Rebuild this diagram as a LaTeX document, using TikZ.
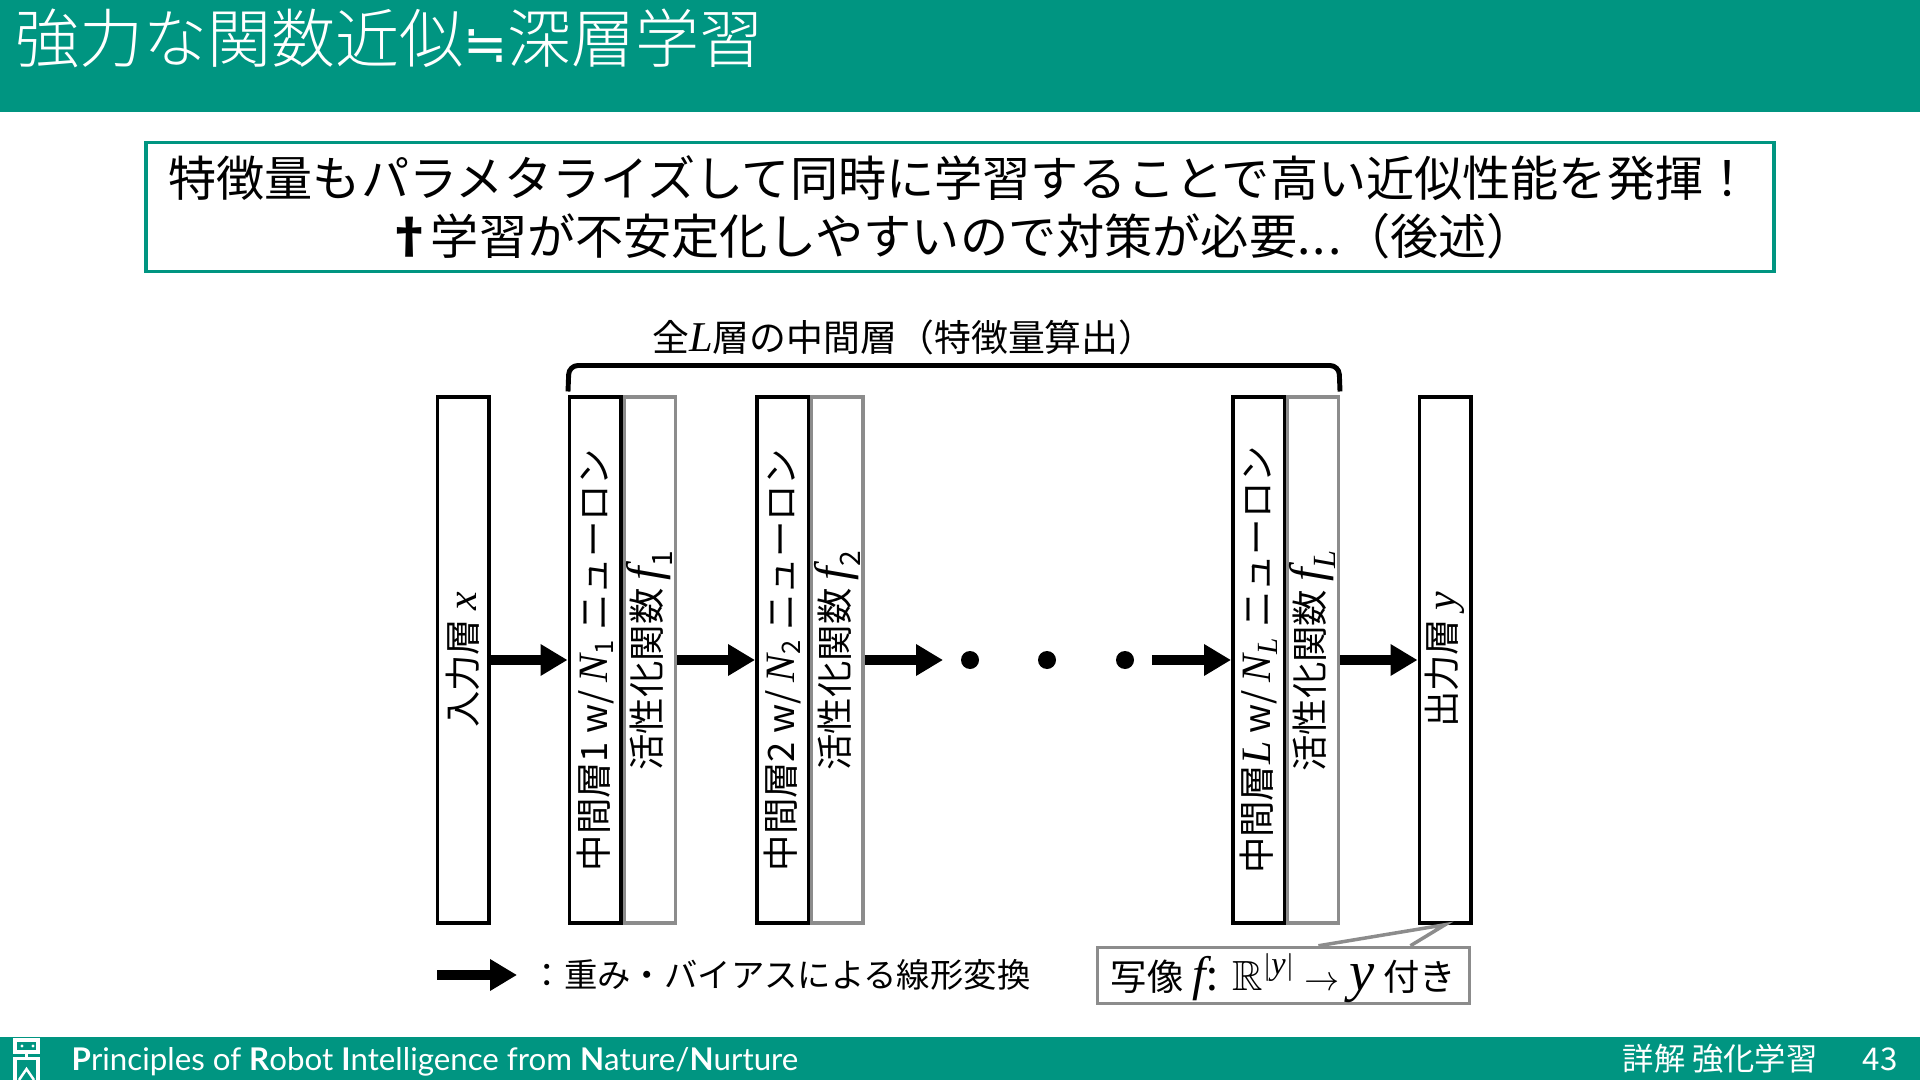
\documentclass[tikz,border=0pt]{standalone}
\usepackage{amsmath,amssymb}
\usepackage{fontspec}
\setmainfont{Noto Sans CJK JP}
\newfontfamily\gillfont{Lato}
\newfontfamily\ttlcjk{Noto Sans CJK JP Light}
\newfontfamily\symfont{DejaVu Sans}
\newfontfamily\mathvar[Scale=1.15]{Liberation Serif}
\usetikzlibrary{arrows.meta,calc}
\definecolor{colTeal}{HTML}{009581}
\definecolor{colGray}{HTML}{8C8C8C}
\def\ttlfont{\fontsize{18.2pt}{23pt}\selectfont}
\def\msgfont{\fontsize{13.7pt}{16.5pt}\selectfont}
\def\laybfont{\fontsize{10.35pt}{12pt}\selectfont}
\def\brkfont{\fontsize{10.5pt}{12pt}\selectfont}
\def\lgdfont{\fontsize{9.5pt}{11pt}\selectfont}
\def\ftrfont{\fontsize{8.9pt}{10pt}\selectfont}
\newcommand{\mv}[1]{{\mathvar\itshape #1}}
\newcommand{\actf}[1]{{\fontsize{12pt}{14pt}\selectfont$\text{\mv{f}}_{\text{#1}}$}}
\tikzset{
  laybox/.style={draw=black, fill=white, line width=1pt, rotate=90, minimum width=5.26cm,
    minimum height=0.515cm, inner sep=0pt, font=\laybfont},
  actbox/.style={laybox, draw=colGray},
  fwdarrow/.style={-{Triangle[length=0.27cm, width=0.30cm]}, line width=0.10cm},
  dotnode/.style={circle, fill=black, inner sep=0pt, minimum size=0.18cm},
  ftrtext/.style={anchor=west, font=\ftrfont, text=white, inner sep=0pt},
}
\begin{document}
\begin{tikzpicture}
\useasboundingbox (0,0) rectangle (19.2,-10.8);
% ===================== BANNERS =====================
\fill[colTeal] (0,0) rectangle (19.2,-1.12);
\fill[colTeal] (0,-10.37) rectangle (19.2,-10.8);
\node[anchor=west, font=\ttlcjk\ttlfont, text=white, inner sep=0pt] (ttl) at (0.15,-0.38)
  {強力な関数近似{\symfont\fontsize{15pt}{18pt}\selectfont ≒}深層学習};
\node[draw=colTeal, line width=0.9pt, minimum width=16.28cm, minimum height=1.29cm, inner sep=0pt,
      align=center, font=\msgfont] (msg) at (9.6,-2.07)
  {特徴量もパラメタライズして同時に学習することで高い近似性能を発揮！\\\textbf{†}\hspace{-0.05em}学習が不安定化しやすいので対策が必要.\hspace{0.05em}.\hspace{0.05em}.（後述）};

% ===================== LAYERS =====================
\node[laybox] (inp) at (4.63,-6.60) {入力層 \mv{x}};
\node[actbox] (act1) at (6.495,-6.60) {活性化関数 \actf{1}};
\node[laybox] (mid1) at (5.95,-6.60) {中間層1 w/ $\text{\mv{N}}_{\text{1}}$ ニューロン};
\node[actbox] (act2) at (8.37,-6.60) {活性化関数 \actf{2}};
\node[laybox] (mid2) at (7.825,-6.60) {中間層2 w/ $\text{\mv{N}}_{\text{2}}$ ニューロン};
\node[actbox] (actL) at (13.125,-6.60) {活性化関数 \actf{\mv{L}}};
\node[laybox] (midL) at (12.585,-6.60) {中間層\mv{L} w/ $\text{\mv{N}}_{\text{\mv{L}}}$ ニューロン};
\node[laybox] (out) at (14.45,-6.60) {出力層 \mv{y}};

\node[dotnode] (dotA) at (9.70,-6.60) {};
\node[dotnode] (dotB) at (10.47,-6.60) {};
\node[dotnode] (dotC) at (11.25,-6.60) {};
\coordinate (gapA) at (9.43,-6.60);
\coordinate (gapB) at (11.52,-6.60);

\draw[fwdarrow] (inp.south) -- (mid1.north);
\draw[fwdarrow] (act1.south) -- (mid2.north);
\draw[fwdarrow] (act2.south) -- (gapA);
\draw[fwdarrow] (gapB) -- (midL.north);
\draw[fwdarrow] (actL.south) -- (out.north);

% ===================== BRACKET =====================
\coordinate (brkL) at (5.68,-3.915);
\coordinate (brkR) at (13.40,-3.915);
\draw[line width=1.4pt, rounded corners=0.09cm] (brkL) -- (5.69,-3.655) -- (13.39,-3.655) -- (brkR);
\node[font=\brkfont, inner sep=0pt] (brklbl) at (9.04,-3.37) {全\mv{L}層の中間層（特徴量算出）};

% ===================== LEGEND / CAPTION =====================
\coordinate (lgdL) at (4.37,-9.75);
\coordinate (lgdR) at (5.17,-9.75);
\draw[fwdarrow] (lgdL) -- (lgdR);
\node[anchor=west, font=\lgdfont, inner sep=0pt] (lgd) at (5.30,-9.75) {：重み・バイアスによる線形変換};

\node[draw=colGray, line width=1pt, minimum width=3.72cm, minimum height=0.56cm, inner sep=0pt,
      text height=0.37cm, text depth=0.08cm, font=\laybfont] (cap) at (12.835,-9.755)
  {写像\hspace{0.25em}{\fontsize{12pt}{14pt}\selectfont\mv{f}:\hspace{0.35em}$\mathbb{R}^{|\text{\mv{y}}|}$}\hspace{0.25em}$\to$\hspace{0.25em}{\fontsize{14pt}{14pt}\selectfont\mv{y}}\hspace{0.25em}付き};
\fill[white] ($(cap.north west)!0.593!(cap.north east)$) -- (out.west) -- ($(cap.north west)!0.838!(cap.north east)$) -- cycle;
\draw[colGray, line width=1pt] ($(cap.north west)!0.593!(cap.north east)$) -- (out.west) -- ($(cap.north west)!0.838!(cap.north east)$);

% ===================== FOOTER =====================
\node[ftrtext, font=\gillfont\ftrfont] (ftr) at (0.71,-10.62)
  {\textbf{P}rinciples of \textbf{R}obot \textbf{I}ntelligence from \textbf{N}ature/\textbf{N}urture};
\node[ftrtext] (book) at (16.22,-10.59) {詳解 強化学習};
\node[ftrtext] (page) at (18.62,-10.59) {43};
% logo
\draw[white, line width=0.9pt] (0.15,-10.40) rectangle (0.38,-10.52);
\draw[white, line width=0.9pt] (0.265,-10.52) -- (0.265,-10.57);
\draw[white, line width=0.9pt] (0.15,-10.80) -- (0.15,-10.585) -- (0.38,-10.585) -- (0.38,-10.80);
\fill[white] (0.22,-10.46) circle (0.016) (0.33,-10.46) circle (0.016);
\draw[white, line width=0.7pt] (0.19,-10.80) -- (0.265,-10.69) -- (0.34,-10.80);
\end{tikzpicture}
\end{document}
